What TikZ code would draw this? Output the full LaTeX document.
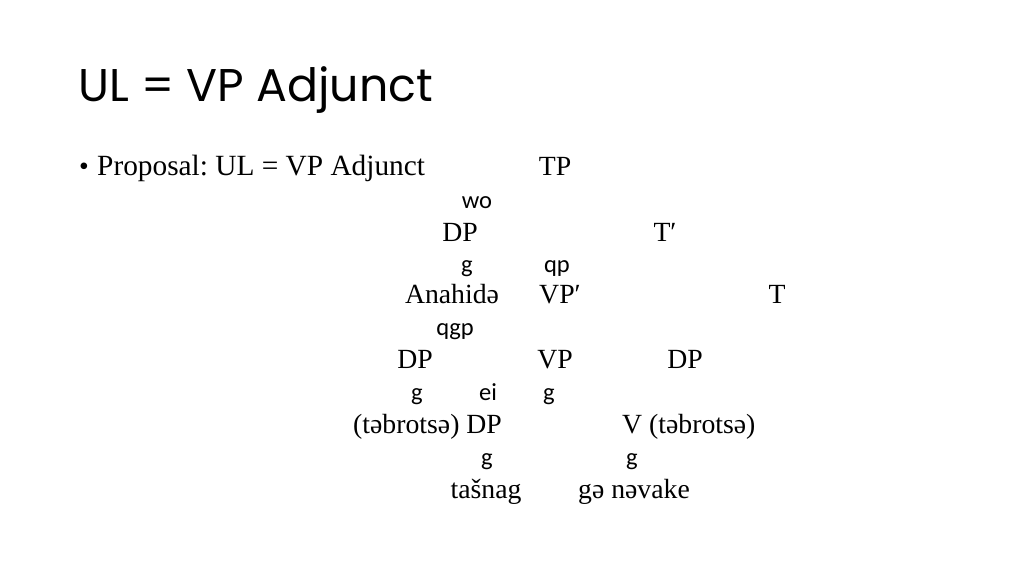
\documentclass[tikz,border=0pt]{standalone}
\usepackage{fontspec}
\setmainfont{Liberation Serif}
\newfontfamily\titlefont{Poppins}
\newfontfamily\glyphfont{Carlito}
\usepackage{tikz}
\frenchspacing
\tikzset{
  cat/.style={anchor=base,inner sep=0pt,font=\fontsize{26}{31}\selectfont},
  glyph/.style={anchor=base,inner sep=0pt,font=\glyphfont\fontsize{23}{27}\selectfont}
}

\begin{document}
\begin{tikzpicture}[x=0.9375pt,y=-0.9375pt]
\useasboundingbox (0,0) rectangle (1024,576);
% title and bullet
\node[anchor=base west,inner sep=0pt,font=\titlefont\fontsize{43}{50}\selectfont] (title) at (78,102) {UL = VP Adjunct};
\node[anchor=base,inner sep=0pt,font=\fontsize{26}{31}\selectfont] (bullet) at (84,175) {\textbullet};
\node[anchor=base west,inner sep=0pt,font=\fontsize{27.5}{33}\selectfont] (proposal) at (97,175) {Proposal: UL = VP Adjunct};
% tree, row by row
\node[cat] (tp) at (555,175) {TP};
\node[glyph] (g1) at (477,208) {wo};
\node[cat] (dp1) at (460,241) {DP};
\node[cat] (tbar) at (665,241) {T′};
\node[glyph] (g2) at (467,272) {g};
\node[glyph] (g3) at (557,272) {qp};
\node[cat] (anahide) at (452,303) {Anahidə};
\node[cat] (vpbar) at (560,303) {VP′};
\node[cat] (t) at (777,303) {T};
\node[glyph] (g4) at (455,335) {qgp};
\node[cat] (dp2) at (415,368) {DP};
\node[cat] (vp) at (555,368) {VP};
\node[cat] (dp3) at (685,368) {DP};
\node[glyph] (g5) at (417,400) {g};
\node[glyph] (g6) at (488,400) {ei};
\node[glyph] (g7) at (549,400) {g};
\node[cat,anchor=base west] (dp4) at (353,433) {(təbrotsə) DP};
\node[cat,anchor=base west] (v) at (622,433) {V (təbrotsə)};
\node[glyph] (g8) at (487,465) {g};
\node[glyph] (g9) at (632,465) {g};
\node[cat] (tasnag) at (486,498) {tašnag};
\node[cat] (navake) at (634,498) {gə nəvake};
\end{tikzpicture}
\end{document}
